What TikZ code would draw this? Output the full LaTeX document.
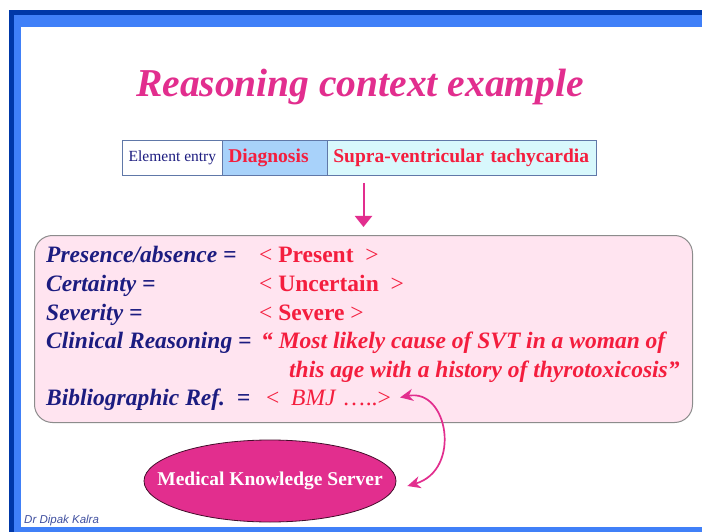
\documentclass[tikz,border=0pt]{standalone}
\usepackage{fontspec}
\setmainfont{Liberation Serif}
\newfontfamily\signfont{Liberation Sans}
\usetikzlibrary{arrows.meta,shapes.geometric}

\definecolor{framedark}{RGB}{0,56,168}
\definecolor{framelight}{RGB}{64,128,248}
\definecolor{titlemag}{RGB}{226,46,142}
\definecolor{navy}{RGB}{28,28,128}
\definecolor{valred}{RGB}{244,30,62}
\definecolor{pinkfill}{RGB}{255,228,240}
\definecolor{diagblue}{RGB}{168,210,250}
\definecolor{suprcyan}{RGB}{216,248,252}
\definecolor{cellline}{RGB}{96,120,168}
\definecolor{signblue}{RGB}{64,80,160}

\tikzset{
  cell/.style={draw=cellline, line width=0.8pt, anchor=north west,
    minimum height=35pt, inner ysep=0pt},
  label/.style={anchor=base west, inner sep=0pt, text=navy,
    font=\fontsize{23.5}{26}\selectfont\bfseries\itshape},
  value/.style={anchor=base west, inner sep=0pt, text=valred,
    font=\fontsize{23.5}{26}\selectfont},
  magarrow/.style={draw=titlemag, line width=2pt,
    -{Triangle[length=11pt,width=17pt]}},
  linkarrow/.style={draw=titlemag, line width=1.7pt,
    {Stealth[length=13pt,width=12pt,inset=4pt]}-{Stealth[length=13pt,width=12pt,inset=4pt]}},
}

\begin{document}
\begin{tikzpicture}[x=1pt,y=-1pt]
  \useasboundingbox (0,0) rectangle (702,532);
  % slide frame
  \fill[white] (0,0) rectangle (702,532);
  \fill[framedark] (9,10) rectangle (702,532);
  \fill[framelight] (14,15) rectangle (702,532);
  \fill[white] (21,27) rectangle (702,527);

  % title
  \node[anchor=base, inner sep=0pt, text=titlemag,
    font=\fontsize{39.5}{44}\selectfont\bfseries\itshape]
    (title) at (360,97) {Reasoning context example};

  % element entry row
  \node[cell, fill=white, minimum width=100pt, inner xsep=0pt,
    font=\fontsize{15.5}{18}\selectfont, text=navy]
    (c1) at (122,140) {Element entry};
  \node[cell, fill=diagblue, text width=93pt, inner xsep=6pt, align=left,
    font=\fontsize{19.5}{22}\selectfont\bfseries, text=valred]
    (c2) at (222,140) {Diagnosis};
  \node[cell, fill=suprcyan, text width=257pt, inner xsep=6pt, align=left,
    font=\fontsize{19.5}{22}\selectfont\bfseries, text=valred]
    (c3) at (327,140) {Supra-ventricular tachycardia};

  % context box
  \node[draw=black!45, line width=1pt, fill=pinkfill, rounded corners=18pt,
    anchor=north west, minimum width=658pt, minimum height=187pt]
    (box) at (34,235) {};

  \draw[magarrow] ([yshift=-7pt]c3.south -| box.north) -- ([yshift=8pt]box.north);

  % attribute names
  \node[label] (l1) at (46,262) {Presence/absence =};
  \node[label] (l2) at (46,291) {Certainty =};
  \node[label] (l3) at (46,320) {Severity =};
  \node[label] (l4) at (46,348) {Clinical Reasoning =};
  \node[label] (l5) at (46,405) {Bibliographic Ref.~~=};

  % attribute values
  \node[value] (v1) at (259,262) {<~\textbf{Present}~~>};
  \node[value] (v2) at (259,291) {<~\textbf{Uncertain}~~>};
  \node[value] (v3) at (259,320) {<~\textbf{Severe}~>};
  \node[value, font=\fontsize{23.5}{26}\selectfont\bfseries\itshape]
    (v4) at (261,348) {``~Most likely cause of SVT in a woman of};
  \node[value, font=\fontsize{23.5}{26}\selectfont\bfseries\itshape]
    (v5) at (289,377) {this age with a history of thyrotoxicosis''};
  \node[value] (v6) at (266,405) {<~~\textit{BMJ} …..>};

  % knowledge server
  \node[ellipse, draw=black!70!titlemag, line width=0.8pt, fill=titlemag,
    minimum width=252pt, minimum height=82pt, inner sep=0pt]
    (server) at (270,481) {};
  \node[inner sep=0pt, text=white, font=\fontsize{19.5}{22}\selectfont\bfseries]
    (servertext) at (server.center) {Medical Knowledge Server};

  \draw[linkarrow] ([xshift=9pt]v6.east) .. controls (448,388) and (462,470)
    .. ([xshift=11pt,yshift=-5pt]server.east);

  % author signature
  \node[anchor=base west, inner sep=0pt, text=signblue,
    font=\signfont\itshape\fontsize{11.5}{13}\selectfont]
    (sign) at (24,523) {Dr Dipak Kalra};
\end{tikzpicture}
\end{document}
